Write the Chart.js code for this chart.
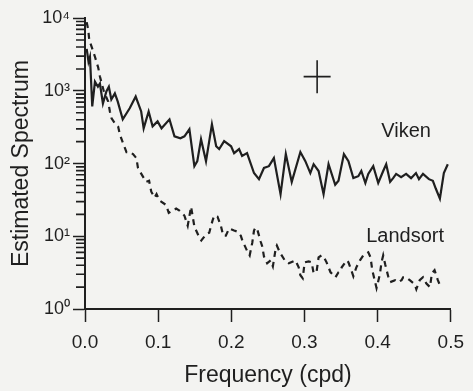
<!DOCTYPE html>
<html><head><meta charset="utf-8">
<style>html,body{margin:0;padding:0;background:#f3f3f1;} #wrap{width:473px;height:391px;}</style>
<script src="https://cdn.jsdelivr.net/npm/chart.js@4/dist/chart.umd.min.js"></script>
</head><body><div id="wrap"><canvas id="c" width="473" height="391"></canvas></div>
<script>
const vikenFreq = [0.0023,0.0048,0.0068,0.0099,0.0136,0.0177,0.0204,0.0245,0.0292,0.0326,0.0360,0.0408,0.0448,0.0516,0.0611,0.0693,0.0768,0.0802,0.0870,0.0924,0.0992,0.1046,0.1155,0.1223,0.1304,0.1359,0.1427,0.1495,0.1535,0.1586,0.1654,0.1735,0.1793,0.1834,0.1902,0.1997,0.2038,0.2106,0.2147,0.2215,0.2310,0.2378,0.2446,0.2514,0.2582,0.2673,0.2745,0.2826,0.2944,0.3012,0.3080,0.3125,0.3193,0.3261,0.3329,0.3420,0.3465,0.3539,0.3601,0.3668,0.3736,0.3777,0.3832,0.3872,0.3940,0.4008,0.4076,0.4117,0.4171,0.4212,0.4253,0.4321,0.4389,0.4457,0.4524,0.4565,0.4620,0.4701,0.4755,0.4796,0.4851,0.4905,0.4959];
const vikenSpec = [3780,2510,2940,610,1340,1140,1260,670,980,1140,760,920,710,405,575,835,520,305,520,325,380,305,405,237,223,237,296,92,108,216,108,346,173,158,203,173,139,158,127,139,74,61,87,92,119,38,135,56,144,108,74,98,79,38,98,51,58,135,108,63,67,79,54,72,92,54,79,98,56,63,72,65,72,63,74,61,72,61,58,45,33,74,98];
const landsortFreq = [0.0023,0.0045,0.0058,0.0091,0.0136,0.0181,0.0204,0.0258,0.0317,0.0340,0.0363,0.0408,0.0452,0.0476,0.0520,0.0567,0.0611,0.0656,0.0702,0.0724,0.0770,0.0836,0.0876,0.0906,0.0951,0.0978,0.1019,0.1107,0.1145,0.1246,0.1291,0.1336,0.1359,0.1404,0.1450,0.1495,0.1563,0.1590,0.1654,0.1698,0.1743,0.1766,0.1811,0.1857,0.1889,0.1925,0.1970,0.2038,0.2083,0.2129,0.2151,0.2219,0.2251,0.2287,0.2310,0.2330,0.2355,0.2401,0.2423,0.2446,0.2490,0.2537,0.2568,0.2609,0.2622,0.2663,0.2740,0.2785,0.2876,0.2921,0.2944,0.2976,0.3003,0.3057,0.3098,0.3125,0.3166,0.3193,0.3234,0.3261,0.3302,0.3356,0.3397,0.3424,0.3465,0.3492,0.3509,0.3577,0.3601,0.3645,0.3668,0.3709,0.3759,0.3804,0.3872,0.3903,0.3927,0.3985,0.4031,0.4053,0.4076,0.4103,0.4144,0.4171,0.4239,0.4280,0.4327,0.4348,0.4389,0.4439,0.4507,0.4529,0.4575,0.4620,0.4664,0.4715,0.4742,0.4778,0.4823,0.4868];
const landsortSpec = [8810,6860,5010,4020,2940,2080,1570,980,713,521,418,357,325,253,190,144,144,135,119,87,72,56,58,41,34,38,31,27,21,24,22.5,20.5,19.2,14.0,25.5,13.6,9.6,8.75,10.6,11.2,16.4,19.2,18.6,14.0,10.2,10.2,12.8,12.0,11.6,10.2,8.75,6.19,5.46,8.22,12.0,13.2,12.4,8.48,7.25,5.29,4.25,4.67,3.86,7.02,7.48,6.0,4.52,4.25,4.67,3.74,2.91,2.65,4.38,4.52,4.38,3.10,3.30,5.13,5.46,5.29,4.38,3.20,2.91,2.73,3.20,3.30,3.74,4.67,4.38,3.30,2.82,3.74,4.67,5.46,6.0,5.13,3.41,1.94,3.0,4.38,5.46,4.11,2.82,2.34,2.49,2.34,2.49,2.73,2.73,2.49,2.19,1.87,2.49,2.73,2.26,2.0,3.10,3.41,2.49,1.94];
const seriesNames = ['Viken', 'Landsort'];
const xTickValues = [0, 0.1, 0.2, 0.3, 0.4, 0.5];
const yMajorTicks = [1, 10, 100, 1000, 10000];
const yMinorTicks = [2,3,4,5,6,7,8,9,20,30,40,50,60,70,80,90,200,300,400,500,600,700,800,900,2000,3000,4000,5000,6000,7000,8000,9000];
const crossCenter = [0.3173, 1566];

const INK = '#1f1f1f';
const FONT = "'Liberation Sans', Arial, Helvetica, sans-serif";
const SUP = ['\u2070','\u00b9','\u00b2','\u00b3','\u2074'];
const labelAnchors = [[0.4389, 278], [0.4375, 9.9]];

const seriesLabels = {
  id: 'seriesLabels',
  afterDatasetsDraw(chart) {
    const {ctx, scales} = chart;
    ctx.save();
    ctx.font = '20px ' + FONT;
    ctx.fillStyle = INK;
    ctx.textAlign = 'center';
    ctx.textBaseline = 'middle';
    seriesNames.forEach((n, i) => {
      ctx.fillText(n, scales.x.getPixelForValue(labelAnchors[i][0]), scales.y.getPixelForValue(labelAnchors[i][1]));
    });
    // short minor tick marks on the log axis, positioned through the y scale
    const ys = scales.y;
    const left = chart.chartArea.left;
    ctx.strokeStyle = INK;
    ctx.lineWidth = 1.6;
    ctx.beginPath();
    yMinorTicks.forEach(v => {
      const py = ys.getPixelForValue(v);
      ctx.moveTo(left - 9, py);
      ctx.lineTo(left, py);
    });
    ctx.stroke();
    ctx.restore();
  }
};

new Chart(document.getElementById('c'), {
  type: 'line',
  data: {
    datasets: [
      { label: seriesNames[0], data: vikenFreq.map((f, i) => ({x: f, y: vikenSpec[i]})),
        borderColor: INK, borderWidth: 2.2, pointRadius: 0, tension: 0, fill: false },
      { label: seriesNames[1], data: landsortFreq.map((f, i) => ({x: f, y: landsortSpec[i]})),
        borderColor: INK, borderWidth: 2.2, borderDash: [6, 5], pointRadius: 0, tension: 0, fill: false },
      { label: 'bw', data: [{x: crossCenter[0], y: crossCenter[1]}], showLine: false,
        pointStyle: 'line', pointRadius: 13.5, pointRotation: 0, pointBorderWidth: 1.6, borderColor: INK, pointBorderColor: INK },
      { label: 'ci', data: [{x: crossCenter[0], y: crossCenter[1]}], showLine: false,
        pointStyle: 'line', pointRadius: 16.5, pointRotation: 90, pointBorderWidth: 1.6, borderColor: INK, pointBorderColor: INK }
    ]
  },
  options: {
    responsive: false, animation: false, devicePixelRatio: 1,
    layout: { padding: { top: 16, right: 20, left: 0, bottom: 0 } },
    plugins: { legend: { display: false }, tooltip: { enabled: false } },
    scales: {
      x: {
        type: 'linear', position: 'bottom', min: 0, max: 0.5,
        afterBuildTicks: s => { s.ticks = xTickValues.map(v => ({value: v})); },
        afterFit: s => { s.height = 82; },
        ticks: { callback: v => v.toFixed(1), color: INK, font: { family: FONT, size: 19 }, padding: 9, maxRotation: 0, autoSkip: false },
        grid: { drawOnChartArea: false, drawTicks: true, tickLength: 13, tickColor: INK, tickWidth: 1.5 },
        border: { display: true, color: INK, width: 2 },
        title: { display: true, text: 'Frequency (cpd)', color: INK, font: { family: FONT, size: 23 }, padding: { top: 2, bottom: 2 } }
      },
      y: {
        type: 'logarithmic', position: 'left', min: 1, max: 10000,
        afterBuildTicks: s => { s.ticks = yMajorTicks.map(v => ({value: v, major: true})); },
        afterFit: s => { s.width = 85; },
        ticks: { callback: v => '10' + SUP[Math.round(Math.log10(v))], color: INK, font: { family: FONT, size: 18 }, padding: 3, autoSkip: false },
        grid: { drawOnChartArea: false, drawTicks: true, tickLength: 12, tickColor: INK, tickWidth: 1.5 },
        border: { display: true, color: INK, width: 2 },
        title: { display: true, text: 'Estimated Spectrum', color: INK, font: { family: FONT, size: 23 }, padding: { top: 8, bottom: 0 } }
      }
    }
  },
  plugins: [seriesLabels]
});
</script>
</body></html>
